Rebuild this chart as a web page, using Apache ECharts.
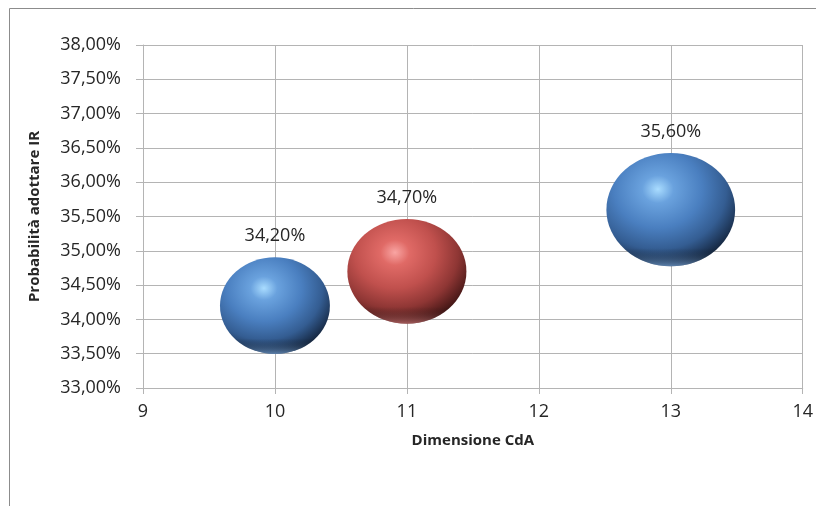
<!DOCTYPE html>
<html>
<head>
<meta charset="utf-8">
<script src="https://cdn.jsdelivr.net/npm/echarts@6/dist/echarts.min.js"></script>
<style>
  html, body { margin: 0; padding: 0; background: #ffffff; }
  #chart { width: 816px; height: 506px; }
</style>
</head>
<body>
<div id="chart"></div>
<script>
// Board size (x), probability of adopting IR in % (y), bubble size
const boardSize = [10, 11, 13];
const probIR = [34.2, 34.7, 35.6];
const bubbleSize = [12.1, 14.2, 16.6];
const pointTone = ['blue', 'red', 'blue'];

const yTicks = { min: 33, max: 38, step: 0.5 };
const xTicks = { min: 9, max: 14, step: 1 };

const fmtPct = v => v.toFixed(2).replace('.', ',') + '%';

// Glossy sphere shading: bright spot upper-left, dark rim lower-right
const tones = {
  blue: [
    { offset: 0, color: '#a9dcff' },
    { offset: 0.16, color: '#6aa2de' },
    { offset: 0.45, color: '#4a7fc0' },
    { offset: 0.7, color: '#345d92' },
    { offset: 0.88, color: '#1b3150' },
    { offset: 1, color: '#0c1625' }
  ],
  red: [
    { offset: 0, color: '#f9a5a3' },
    { offset: 0.16, color: '#e06a66' },
    { offset: 0.45, color: '#c0504d' },
    { offset: 0.7, color: '#8e3634' },
    { offset: 0.88, color: '#511c1b' },
    { offset: 1, color: '#260c0b' }
  ]
};
const rims = { blue: 'rgba(150,200,255,0.55)', red: 'rgba(255,160,160,0.5)' };

const sizeOf = v => {
  const w = Math.sqrt(v[2]) * 31.6;
  return [w, w * 0.88];
};

const bodyData = boardSize.map((x, i) => ({
  value: [x, probIR[i], bubbleSize[i]],
  itemStyle: {
    opacity: 1,
    color: {
      type: 'radial', x: 0.4, y: 0.32, r: 0.76,
      colorStops: tones[pointTone[i]]
    }
  }
}));

// Soft reflected light along the lower edge
const rimData = boardSize.map((x, i) => ({
  value: [x, probIR[i], bubbleSize[i]],
  itemStyle: {
    opacity: 1,
    color: {
      type: 'linear', x: 0, y: 0, x2: 0, y2: 1,
      colorStops: [
        { offset: 0, color: 'rgba(0,0,0,0)' },
        { offset: 0.84, color: 'rgba(0,0,0,0)' },
        { offset: 1, color: rims[pointTone[i]] }
      ]
    }
  }
}));

const chart = echarts.init(document.getElementById('chart'), null, { renderer: 'canvas' });

const gridColor = '#b4b4b4';
const textColor = '#262626';

chart.setOption({
  animation: false,
  backgroundColor: '#ffffff',
  textStyle: { fontFamily: 'Open Sans' },
  grid: { left: 143, right: 12, top: 45, bottom: 118 },
  graphic: [{
    type: 'rect',
    shape: { x: 9.5, y: 8.5, width: 830, height: 520 },
    style: { fill: 'none', stroke: '#8c8c8c', lineWidth: 1 },
    silent: true
  }],
  xAxis: {
    type: 'value',
    min: xTicks.min, max: xTicks.max, interval: xTicks.step,
    name: 'Dimensione CdA',
    nameLocation: 'middle',
    nameGap: 45,
    nameTextStyle: { fontFamily: 'Open Sans', fontWeight: 'bold', fontSize: 15, color: '#262626' },
    axisLine: { show: true, lineStyle: { color: gridColor } },
    axisTick: { show: true, length: 6, lineStyle: { color: gridColor } },
    axisLabel: { fontSize: 18, color: textColor, margin: 15 },
    splitLine: { show: true, lineStyle: { color: gridColor } }
  },
  yAxis: {
    type: 'value',
    min: yTicks.min, max: yTicks.max, interval: yTicks.step,
    name: 'Probabilità adottare IR',
    nameLocation: 'middle',
    nameGap: 101,
    nameRotate: 90,
    nameTextStyle: { fontFamily: 'Open Sans', fontWeight: 'bold', fontSize: 15, color: '#262626' },
    axisLine: { show: true, lineStyle: { color: gridColor } },
    axisTick: { show: true, length: 7, lineStyle: { color: gridColor } },
    axisLabel: { fontSize: 18, color: textColor, margin: 22, formatter: fmtPct },
    splitLine: { show: true, lineStyle: { color: gridColor } }
  },
  series: [{
    type: 'scatter',
    data: bodyData,
    symbol: 'circle',
    symbolSize: sizeOf,
    itemStyle: { opacity: 1 },
    z: 2,
    label: {
      show: true,
      position: 'top',
      distance: 12,
      fontSize: 18,
      color: textColor,
      formatter: p => fmtPct(p.value[1])
    }
  }, {
    type: 'scatter',
    data: rimData,
    symbol: 'circle',
    symbolSize: sizeOf,
    itemStyle: { opacity: 1 },
    z: 3,
    silent: true
  }]
});
</script>
</body>
</html>
